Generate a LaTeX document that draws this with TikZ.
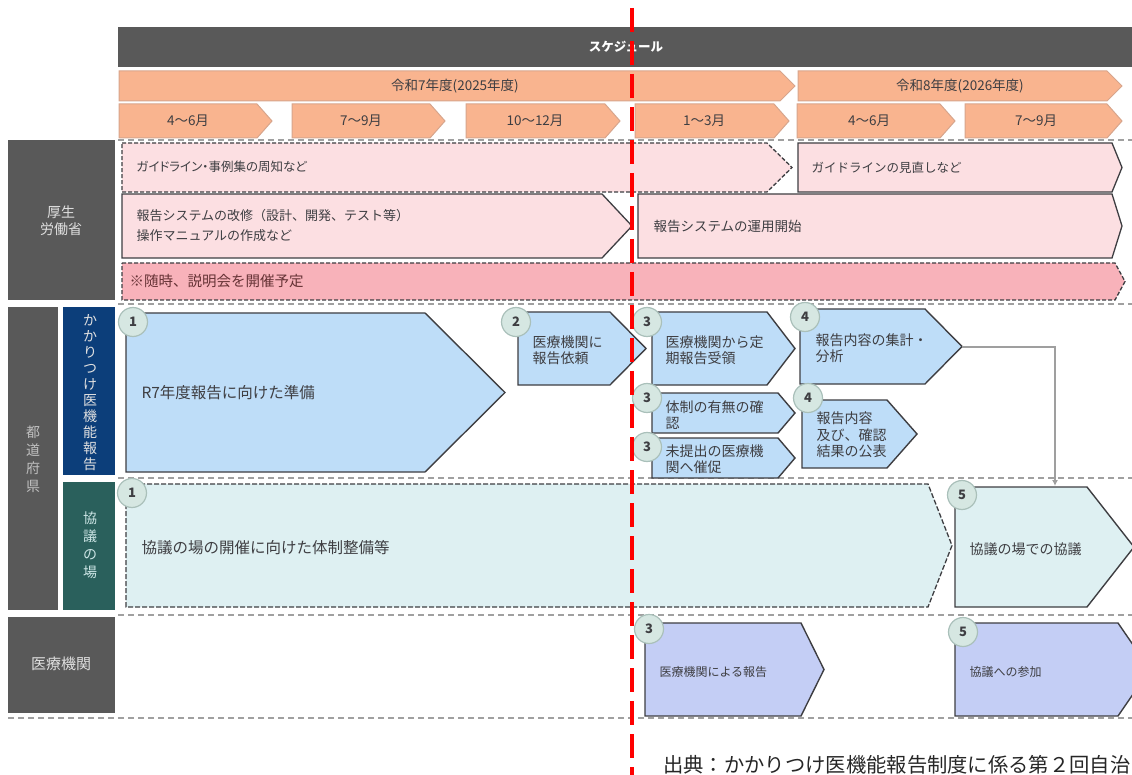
\documentclass[tikz,border=0pt]{standalone}
\usepackage{fontspec}
\setmainfont{Noto Sans CJK JP}
\newfontfamily\jpp{Noto Sans CJK JP}[RawFeature=+palt]
\usetikzlibrary{arrows.meta}
\definecolor{hdgray}{RGB}{89,89,89}
\definecolor{peach}{RGB}{249,180,143}
\definecolor{peachd}{RGB}{215,165,140}
\definecolor{pinkl}{RGB}{252,223,226}
\definecolor{pinkd}{RGB}{248,178,186}
\definecolor{bluel}{RGB}{190,221,248}
\definecolor{teall}{RGB}{222,240,242}
\definecolor{lav}{RGB}{196,206,245}
\definecolor{navy}{RGB}{12,62,122}
\definecolor{tealdk}{RGB}{42,96,92}
\definecolor{circf}{RGB}{214,231,226}
\definecolor{circd}{RGB}{170,192,186}
\definecolor{edge}{RGB}{62,62,66}
\definecolor{sepgray}{RGB}{160,160,160}
\newcommand{\fsz}[2]{\fontsize{#1}{#2}\selectfont}
% style, left, top, tip x, bottom, depth
\newcommand{\chev}[6]{\draw[#1] (#2,#3) -- ({#4-#6},#3) -- (#4,{(#3+#5)/2}) -- ({#4-#6},#5) -- (#2,#5) -- cycle;}
\newcommand{\numc}[4]{\node[numc] (#1) at (#2,#3) {#4};}

\begin{document}
\begin{tikzpicture}[x=1pt,y=-1pt,
  mon/.style={fill=peach,draw=peachd,line width=1pt},
  bar/.style={fill=pinkl,draw=edge,line width=1.3pt},
  bard/.style={bar,dash pattern=on 4pt off 2pt},
  stepb/.style={fill=bluel,draw=edge,line width=1.4pt},
  numc/.style={circle,fill=circf,draw=circd,line width=1.2pt,minimum size=29pt,inner sep=0pt,text=edge,font=\bfseries\fsz{13}{13}},
  sep/.style={draw=sepgray,line width=1.5pt,dash pattern=on 6pt off 4pt},
  lab/.style={anchor=west,align=left,text=edge},
  sidetxt/.style={align=center,text=white!88!black},
  conn/.style={draw=gray!75,line width=1.2pt,-{Latex[length=6pt,width=6pt]}}]
      \useasboundingbox (0,0) rectangle (1132,775);
      % header
      \fill[hdgray] (118,27) rectangle (1132,67);
      \node[text=white,font=\bfseries\fsz{12.5}{14}] (sched) at (626,47) {スケジュール};
      \chev{mon}{119}{71}{795}{101}{15}
      \node[text=edge,font=\fsz{13.5}{15}] (fy7) at (455,86) {令和7年度(2025年度)};
      \chev{mon}{798}{71}{1122}{101}{15}
      \node[text=edge,font=\fsz{13.5}{15}] (fy8) at (960,86) {令和8年度(2026年度)};
      \chev{mon}{119}{104}{272}{138}{15}
      \chev{mon}{292}{104}{445}{138}{15}
      \chev{mon}{466}{104}{620}{138}{15}
      \chev{mon}{635}{104}{789}{138}{15}
      \chev{mon}{797}{104}{955}{138}{15}
      \chev{mon}{965}{104}{1122}{138}{15}
      \node[text=edge,font=\fsz{13.5}{15}] (q1) at (188,121) {4～6月};
      \node[text=edge,font=\fsz{13.5}{15}] (q2) at (361,121) {7～9月};
      \node[text=edge,font=\fsz{13.5}{15}] (q3) at (535,121) {10～12月};
      \node[text=edge,font=\fsz{13.5}{15}] (q4) at (704,121) {1～3月};
      \node[text=edge,font=\fsz{13.5}{15}] (q5) at (869,121) {4～6月};
      \node[text=edge,font=\fsz{13.5}{15}] (q6) at (1036,121) {7～9月};

      % row labels
      \fill[hdgray] (8,140) rectangle (115,300);
      \node[sidetxt,font=\fsz{14}{17}] (mhlw) at (61,221) {厚生\\労働省};
      \fill[hdgray] (8,307) rectangle (58,610);
      \node[sidetxt,text=white!75!black,font=\fsz{14}{18}] (pref) at (33,459) {都\\道\\府\\県};
      \fill[navy] (63,307) rectangle (115,475);
      \node[sidetxt,font=\fsz{14}{16}] (kakari) at (90,393) {か\\か\\り\\つ\\け\\医\\機\\能\\報\\告};
      \fill[tealdk] (63,482) rectangle (115,610);
      \node[sidetxt,text=white!80!teal,font=\fsz{14}{18}] (kyogi) at (90,545) {協\\議\\の\\場};
      \fill[hdgray] (8,617) rectangle (115,713);
      \node[sidetxt,font=\fsz{15}{17}] (iryo) at (61,664) {医療機関};

      % dashed row separators
      \draw[sep] (118,140) -- (1132,140);
      \draw[sep] (118,304) -- (1132,304);
      \draw[sep] (118,478) -- (1132,478);
      \draw[sep] (118,615) -- (1132,615);
      \draw[sep] (8,718) -- (1132,718);

      % MHLW
      \chev{bard}{122}{143}{792}{192}{25}
      \node[lab,font=\jpp\fsz{12.5}{15}] (guide1) at (133,167) {ガイドライン・事例集の周知など};
      \chev{bar}{798}{143}{1122}{192}{10}
      \node[lab,font=\fsz{12.5}{15}] (guide2) at (808,168) {ガイドラインの見直しなど};
      \chev{bar}{122}{194}{632}{258}{30}
      \node[lab,font=\fsz{13}{20}] (sys1) at (133,226) {報告システムの改修（設計、開発、テスト等）\\操作マニュアルの作成など};
      \chev{bar}{638}{194}{1122}{258}{10}
      \node[lab,font=\fsz{13.5}{15}] (sys2) at (650,226) {報告システムの運用開始};
      \chev{bard,fill=pinkd}{122}{263}{1125}{300}{10}
      \node[lab,text=edge!80!red,font=\fsz{14.5}{15}] (brief) at (126,281) {※随時、説明会を開催予定};

      % prefecture: report
      \chev{stepb}{126}{313}{505}{472}{80}
      \node[lab,font=\fsz{15.5}{17}] (prep) at (138,393) {R7年度報告に向けた準備};
      \chev{stepb}{518}{312}{646}{385}{36}
      \node[lab,font=\fsz{14}{16.5}] (req) at (529,350) {医療機関に\\報告依頼};
      \chev{stepb}{652}{312}{795}{385}{28}
      \node[lab,font=\fsz{14}{16.5}] (recv) at (662,350) {医療機関から定\\期報告受領};
      \chev{stepb}{800}{309}{962}{384}{37}
      \node[lab,font=\fsz{14}{16.5}] (agg) at (812,348) {報告内容の集計・\\分析};
      \chev{stepb}{652}{393}{795}{433}{17}
      \node[lab,font=\fsz{14}{16.5}] (chk) at (662,415) {体制の有無の確\\認};
      \chev{stepb}{652}{438}{795}{478}{17}
      \node[lab,font=\fsz{14}{16.5}] (urge) at (662,459) {未提出の医療機\\関へ催促};
      \chev{stepb}{802}{400}{917}{468}{30}
      \node[lab,font=\fsz{14}{16.5}] (pub) at (813,435) {報告内容\\及び、確認\\結果の公表};

      % prefecture: council
      \chev{bard,fill=teall,dash pattern=on 5pt off 2pt}{126}{484}{952}{607}{24}
      \node[lab,font=\fsz{15.5}{17}] (setup) at (138,548) {協議の場の開催に向けた体制整備等};
      \chev{stepb,fill=teall}{955}{487}{1134}{607}{47}
      \node[lab,font=\fsz{14}{16}] (meet) at (966,549) {協議の場での協議};

      % medical institutions
      \chev{stepb,fill=lav}{645}{623}{824}{716}{23}
      \node[lab,font=\fsz{12}{14}] (inst) at (656,672) {医療機関による報告};
      \chev{stepb,fill=lav}{955}{623}{1150}{716}{32}
      \node[lab,font=\fsz{12}{14}] (join) at (966,672) {協議への参加};

      % step numbers
      \numc{n1a}{133}{322}{1}
      \numc{n2}{516}{322}{2}
      \numc{n3a}{647}{322}{3}
      \numc{n4a}{805}{317}{4}
      \numc{n3b}{647}{398}{3}
      \numc{n4b}{808}{398}{4}
      \numc{n3c}{647}{447}{3}
      \numc{n1b}{132}{493}{1}
      \numc{n5a}{962}{495}{5}
      \numc{n3d}{649}{629}{3}
      \numc{n5b}{963}{632}{5}

      % connector from 4 to 5
      \coordinate (aggtip) at (962,347);
      \coordinate (meettop) at (1055,486);
      \draw[conn] (aggtip) -| (meettop);

      % source
      \node[anchor=base west,inner sep=0pt,text=black!85,font=\fsz{20.3}{22}] (src) at (663,772) {出典：かかりつけ医機能報告制度に係る第２回自治};

      % red line
      \draw[red,line width=4.5pt,dash pattern=on 24pt off 9pt] (632,8) -- (632,775);
\end{tikzpicture}
\end{document}
